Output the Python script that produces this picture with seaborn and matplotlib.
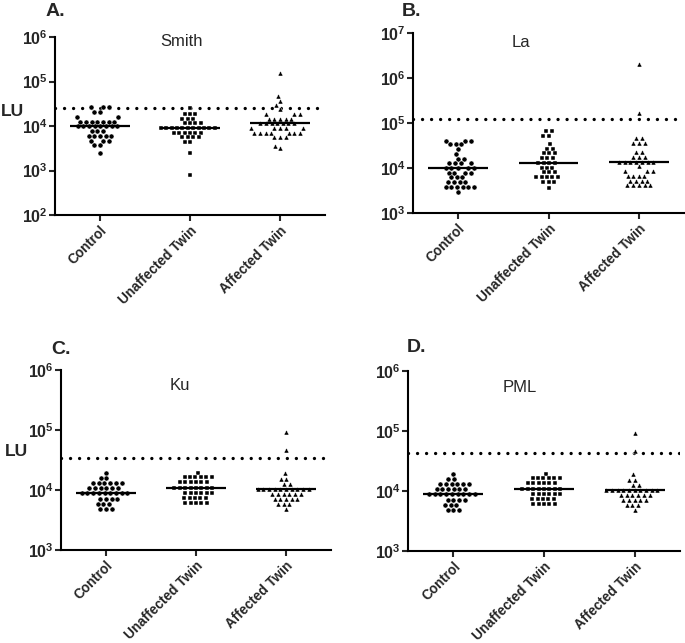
import numpy as np
import pandas as pd
import matplotlib
matplotlib.use("Agg")
import matplotlib.pyplot as plt
from matplotlib.ticker import NullLocator
import seaborn as sns

sns.set_style("ticks")
plt.rcParams['font.family'] = ['Liberation Sans', 'DejaVu Sans']
plt.rcParams['mathtext.fontset'] = 'custom'
plt.rcParams['mathtext.rm'] = 'Liberation Sans:bold'
plt.rcParams['mathtext.bf'] = 'Liberation Sans:bold'
plt.rcParams['mathtext.default'] = 'rm'

categories = ["Control", "Unaffected Twin", "Affected Twin"]
markers = ["o", "s", "^"]

# ---- Panel A: Smith ----
smith_control = [2.63e4, 2.63e4, 2.63e4, 2.07e4, 2.07e4, 1.58e4, 1.58e4,
                 1.25e4, 1.25e4, 1.25e4, 1.25e4, 1.25e4, 1.25e4, 1.25e4,
                 9.8e3, 9.8e3, 9.8e3, 9.8e3, 9.8e3, 9.8e3, 9.8e3, 9.8e3,
                 7.7e3, 7.7e3, 7.7e3, 6.0e3, 6.0e3, 6.0e3, 6.0e3, 6.0e3,
                 4.7e3, 4.7e3, 4.7e3, 3.7e3, 3.7e3, 2.45e3]
smith_unaffected = [2.6e4, 1.86e4, 1.86e4, 1.86e4, 1.46e4, 1.46e4, 1.46e4,
                    1.15e4, 1.15e4, 1.15e4, 1.15e4,
                    9.0e3, 9.0e3, 9.0e3, 9.0e3, 9.0e3, 9.0e3, 9.0e3, 9.0e3, 9.0e3, 9.0e3, 9.0e3,
                    7.06e3, 7.06e3, 7.06e3, 7.06e3, 7.06e3, 7.06e3,
                    5.55e3, 5.55e3, 5.55e3, 5.55e3, 4.36e3, 4.36e3, 2.5e3, 7.9e2]
smith_affected = [1.55e5, 4.8e4, 3.7e4, 2.9e4, 2.38e4, 1.87e4, 1.87e4, 1.87e4,
                  1.47e4, 1.47e4, 1.47e4, 1.47e4, 1.47e4,
                  1.15e4, 1.15e4, 1.15e4, 1.15e4, 1.15e4, 1.15e4, 1.15e4,
                  9.0e3, 9.0e3, 9.0e3, 9.0e3, 9.0e3,
                  7.1e3, 7.1e3, 7.1e3, 7.1e3, 7.1e3, 7.1e3, 7.1e3,
                  5.6e3, 5.6e3, 5.6e3, 3.6e3, 3.2e3]

# ---- Panel B: La ----
la_control = [4.07e4, 4.07e4, 4.07e4, 3.35e4, 3.35e4, 3.35e4, 2.63e4, 2.07e4,
              1.62e4, 1.62e4, 1.27e4, 1.27e4, 1.27e4, 1.27e4,
              1.0e4, 1.0e4, 1.0e4, 1.0e4, 1.0e4,
              7.85e3, 7.85e3, 7.85e3, 7.85e3, 6.17e3, 6.17e3, 6.17e3,
              4.84e3, 4.84e3, 4.84e3, 4.84e3,
              3.8e3, 3.8e3, 3.8e3, 3.8e3, 3.8e3, 3.8e3, 2.9e3]
la_unaffected = [6.7e4, 6.7e4, 5.25e4, 5.25e4, 3.42e4, 2.69e4, 2.69e4,
                 2.11e4, 2.11e4, 2.11e4, 1.66e4, 1.66e4, 1.66e4,
                 1.3e4, 1.3e4, 1.3e4, 1.3e4, 1.02e4, 1.02e4, 1.02e4,
                 8.0e3, 8.0e3, 8.0e3, 6.3e3, 6.3e3, 6.3e3, 6.3e3, 6.3e3,
                 4.9e3, 4.9e3, 4.9e3, 3.55e3]
la_affected = [2.1e6, 1.7e5, 4.62e4, 4.62e4, 3.63e4, 3.63e4, 3.63e4, 2.24e4, 2.24e4,
               1.76e4, 1.76e4, 1.76e4,
               1.38e4, 1.38e4, 1.38e4, 1.38e4, 1.38e4, 1.38e4, 1.38e4,
               1.08e4, 8.5e3, 8.5e3, 8.5e3, 6.7e3, 6.7e3, 6.7e3, 6.7e3,
               5.25e3, 5.25e3, 5.25e3, 5.25e3, 4.12e3, 4.12e3, 4.12e3, 4.12e3, 4.12e3]

# ---- Panel C: Ku ----
ku_control = [1.95e4, 1.58e4, 1.58e4, 1.3e4, 1.3e4, 1.3e4, 1.3e4, 1.3e4, 1.3e4,
              1.07e4, 1.07e4, 1.07e4, 1.07e4, 1.07e4, 1.07e4,
              8.8e3, 8.8e3, 8.8e3, 8.8e3, 8.8e3, 8.8e3, 8.8e3, 8.8e3, 8.8e3,
              7.2e3, 7.2e3, 7.2e3, 7.2e3, 5.9e3, 5.9e3, 5.9e3, 4.9e3, 4.9e3, 4.9e3]
ku_unaffected = [1.95e4, 1.63e4, 1.63e4, 1.63e4, 1.63e4, 1.63e4, 1.63e4,
                 1.34e4, 1.34e4, 1.34e4, 1.34e4, 1.34e4, 1.34e4,
                 1.1e4, 1.1e4, 1.1e4, 1.1e4, 1.1e4, 1.1e4, 1.1e4, 1.1e4,
                 9.0e3, 9.0e3, 9.0e3, 9.0e3, 9.0e3, 9.0e3,
                 7.4e3, 7.4e3, 7.4e3, 7.4e3, 7.4e3,
                 6.1e3, 6.1e3, 6.1e3, 6.1e3, 6.1e3]
ku_affected = [9.4e4, 4.6e4, 1.89e4, 1.55e4, 1.55e4, 1.28e4, 1.28e4,
               1.05e4, 1.05e4, 1.05e4, 1.05e4, 1.05e4, 1.05e4, 1.05e4, 1.05e4, 1.05e4, 1.05e4,
               8.6e3, 8.6e3, 8.6e3, 8.6e3, 8.6e3, 8.6e3,
               7.1e3, 7.1e3, 7.1e3, 7.1e3, 7.1e3, 5.8e3, 5.8e3, 5.8e3, 4.8e3]

# ---- Panel D: PML ----
pml_control = [1.95e4, 1.58e4, 1.58e4, 1.3e4, 1.3e4, 1.3e4, 1.3e4, 1.3e4, 1.3e4,
               1.07e4, 1.07e4, 1.07e4, 1.07e4, 1.07e4, 1.07e4,
               8.8e3, 8.8e3, 8.8e3, 8.8e3, 8.8e3, 8.8e3, 8.8e3, 8.8e3, 8.8e3,
               7.2e3, 7.2e3, 7.2e3, 7.2e3, 5.9e3, 5.9e3, 5.9e3, 4.9e3, 4.9e3, 4.9e3]
pml_unaffected = [1.95e4, 1.63e4, 1.63e4, 1.63e4, 1.63e4, 1.63e4, 1.63e4,
                  1.34e4, 1.34e4, 1.34e4, 1.34e4, 1.34e4, 1.34e4,
                  1.1e4, 1.1e4, 1.1e4, 1.1e4, 1.1e4, 1.1e4, 1.1e4, 1.1e4,
                  9.0e3, 9.0e3, 9.0e3, 9.0e3, 9.0e3, 9.0e3,
                  7.4e3, 7.4e3, 7.4e3, 7.4e3, 7.4e3,
                  6.1e3, 6.1e3, 6.1e3, 6.1e3, 6.1e3]
pml_affected = [9.4e4, 4.6e4, 1.89e4, 1.55e4, 1.55e4, 1.28e4, 1.28e4,
                1.05e4, 1.05e4, 1.05e4, 1.05e4, 1.05e4, 1.05e4, 1.05e4, 1.05e4, 1.05e4, 1.05e4,
                8.6e3, 8.6e3, 8.6e3, 8.6e3, 8.6e3, 8.6e3,
                7.1e3, 7.1e3, 7.1e3, 7.1e3, 7.1e3, 5.8e3, 5.8e3, 5.8e3, 4.8e3]

titles = ["Smith", "La", "Ku", "PML"]
letters = ["A.", "B.", "C.", "D."]
thresholds = [2.6e4, 1.23e5, 3.4e4, 4.3e4]
ylim_exp = [(2, 6), (3, 7), (3, 6), (3, 6)]
panel_data = [
    [smith_control, smith_unaffected, smith_affected],
    [la_control, la_unaffected, la_affected],
    [ku_control, ku_unaffected, ku_affected],
    [pml_control, pml_unaffected, pml_affected],
]

W, H = 685, 643
fig = plt.figure(figsize=(W / 100, H / 100), dpi=100)

# axes boxes in pixels: left, top, right, bottom
boxes = [(55, 37, 325, 215), (413, 33, 684, 213), (61, 370, 331, 550), (408, 371, 680, 551)]
title_pos = [(0.47, 0.975), (0.40, 0.945), (0.44, 0.915), (0.41, 0.91)]
letter_pos = [(46, 12), (402, 11), (51, 350), (407, 348)]
lu_pos = [(12, 112), None, (16, 452), None]
marker_sizes = [3.6, 3.4, 3.6]

for p in range(4):
    l, t, r, b = boxes[p]
    ax = fig.add_axes([l / W, 1 - b / H, (r - l) / W, (b - t) / H])
    ax.set_yscale('log')
    lo, hi = ylim_exp[p]
    ax.set_ylim(10 ** lo, 10 ** hi)
    for i, (cat, vals, mk) in enumerate(zip(categories, panel_data[p], markers)):
        df = pd.DataFrame({"group": [cat] * len(vals), "value": vals})
        sns.swarmplot(data=df, x="group", y="value", order=categories, marker=mk,
                      color="black", size=marker_sizes[i], linewidth=0.3,
                      edgecolor="white", ax=ax, zorder=3)
        med = np.median(vals)
        ax.hlines(med, i - 0.33, i + 0.33, color="black", lw=1.6, zorder=4)
    ax.axhline(thresholds[p], color="black", linestyle=(0, (0.01, 2.7)), lw=2.4,
               dash_capstyle="round", zorder=2)
    ax.set_xlim(-0.5, 2.5)
    ax.set_ylim(10 ** lo, 10 ** hi)
    exps = list(range(lo, hi + 1))
    ax.set_yticks([10.0 ** k for k in exps])
    ax.set_yticklabels([rf"$10^{{{k}}}$" for k in exps])
    ax.yaxis.set_minor_locator(NullLocator())
    ax.set_xticks(range(3))
    ax.set_xticklabels(categories, rotation=45, ha="right", rotation_mode="anchor",
                       fontweight="bold", fontsize=9.8)
    ax.tick_params(axis="y", labelsize=11.5, length=4, width=1.5, pad=1)
    ax.tick_params(axis="x", length=4, width=1.5, pad=2)
    ax.set_xlabel("")
    ax.set_ylabel("")
    for s in ["top", "right"]:
        ax.spines[s].set_visible(False)
    for s in ["left", "bottom"]:
        ax.spines[s].set_linewidth(1.5)
        ax.spines[s].set_color("black")
    ax.text(title_pos[p][0], title_pos[p][1], titles[p], transform=ax.transAxes,
            ha="center", va="center", fontsize=12)
    lx, ly = letter_pos[p]
    fig.text(lx / W, 1 - ly / H, letters[p], ha="left", va="center",
             fontsize=14, fontweight="bold")
    if lu_pos[p] is not None:
        ux, uy = lu_pos[p]
        fig.text(ux / W, 1 - uy / H, "LU", ha="center", va="center",
                 fontsize=12.5, fontweight="bold")

fig.savefig("out.png", dpi=100)
